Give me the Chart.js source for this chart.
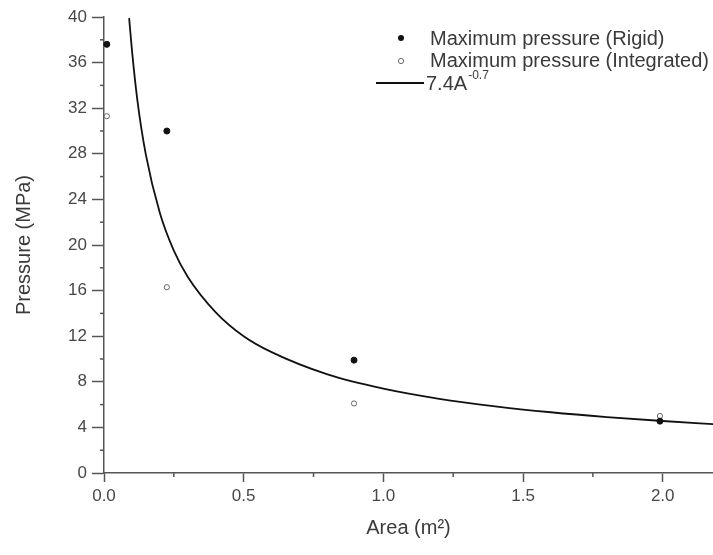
<!DOCTYPE html>
<html>
<head>
<meta charset="utf-8">
<script src="https://cdn.jsdelivr.net/npm/chart.js@4.4.1/dist/chart.umd.min.js"></script>
<style>
  html, body { margin: 0; padding: 0; background: #fff; }
  #wrap { width: 713px; height: 555px; }
</style>
</head>
<body>
<div id="wrap"><canvas id="pressureChart"></canvas></div>
<script>
// measured points
const rigidArea = [0.01, 0.225, 0.895, 1.99];
const rigidPressure = [37.6, 30.0, 9.9, 4.55];
const integratedArea = [0.01, 0.225, 0.895, 1.99];
const integratedPressure = [31.3, 16.3, 6.1, 5.0];

// fitted curve
const fitArea = [0.09, 0.1, 0.12, 0.15, 0.2, 0.25, 0.3, 0.4, 0.5, 0.6, 0.8, 1.0, 1.2, 1.4, 1.6, 1.8, 2.0, 2.2];
const fitPressure = [39.9, 37.1, 32.6, 27.9, 22.8, 19.5, 17.2, 14.1, 12.0, 10.6, 8.65, 7.4, 6.51, 5.85, 5.33, 4.91, 4.56, 4.26];

// axis ticks
const areaTicks = [0, 0.5, 1.0, 1.5, 2.0];
const pressureTicks = [0, 4, 8, 12, 16, 20, 24, 28, 32, 36, 40];

const axisColor = '#555';
const textColor = '#474747';
const fontFamily = '"Liberation Sans", Arial, sans-serif';

function toPoints(xs, ys) {
    return xs.map((x, i) => ({ x: x, y: ys[i] }));
}

// short minor ticks halfway between the major ones
const minorTicks = {
    id: 'minorTicks',
    afterDraw(chart) {
        const ctx = chart.ctx;
        const xs = chart.scales.x;
        const ys = chart.scales.y;
        ctx.save();
        ctx.strokeStyle = axisColor;
        ctx.lineWidth = 1.5;
        for (let i = 0; i < areaTicks.length; i++) {
            const v = areaTicks[i] + 0.25;
            if (v > xs.max) break;
            const px = xs.getPixelForValue(v);
            ctx.beginPath();
            ctx.moveTo(px, xs.top);
            ctx.lineTo(px, xs.top + 4);
            ctx.stroke();
        }
        for (let i = 0; i < pressureTicks.length - 1; i++) {
            const py = ys.getPixelForValue(pressureTicks[i] + 2);
            ctx.beginPath();
            ctx.moveTo(ys.right - 4, py);
            ctx.lineTo(ys.right, py);
            ctx.stroke();
        }
        ctx.restore();
    }
};

// legend inside the plot, top right
const insideLegend = {
    id: 'insideLegend',
    afterDraw(chart) {
        const ctx = chart.ctx;
        ctx.save();
        ctx.font = '20px ' + fontFamily;
        ctx.textBaseline = 'middle';

        ctx.beginPath();
        ctx.arc(401, 38, 3, 0, Math.PI * 2);
        ctx.fillStyle = '#111';
        ctx.fill();
        ctx.fillStyle = '#3a3a3a';
        ctx.fillText('Maximum pressure (Rigid)', 430, 39);

        ctx.beginPath();
        ctx.arc(401, 61, 2.6, 0, Math.PI * 2);
        ctx.strokeStyle = '#666';
        ctx.lineWidth = 1;
        ctx.stroke();
        ctx.fillText('Maximum pressure (Integrated)', 430, 61);

        ctx.beginPath();
        ctx.moveTo(376, 83);
        ctx.lineTo(424, 83);
        ctx.strokeStyle = '#111';
        ctx.lineWidth = 1.8;
        ctx.stroke();
        ctx.fillText('7.4A', 426, 84);
        const w = ctx.measureText('7.4A').width;
        ctx.font = '12px ' + fontFamily;
        ctx.fillText('-0.7', 426 + w + 1, 76);
        ctx.restore();
    }
};

const chartData = {
    datasets: [
        {
            label: 'Maximum pressure (Rigid)',
            type: 'scatter',
            data: toPoints(rigidArea, rigidPressure),
            pointRadius: 3,
            pointBackgroundColor: '#111',
            pointBorderColor: '#111',
            pointBorderWidth: 1,
            clip: false
        },
        {
            label: 'Maximum pressure (Integrated)',
            type: 'scatter',
            data: toPoints(integratedArea, integratedPressure),
            pointRadius: 2.6,
            pointBackgroundColor: '#fff',
            pointBorderColor: '#666',
            pointBorderWidth: 1,
            clip: false
        },
        {
            label: '7.4A^-0.7',
            type: 'line',
            data: toPoints(fitArea, fitPressure),
            borderColor: '#111',
            borderWidth: 1.8,
            pointRadius: 0,
            fill: false,
            cubicInterpolationMode: 'monotone'
        }
    ]
};

const config = {
    type: 'scatter',
    data: chartData,
    options: {
        responsive: false,
        animation: false,
        layout: {
            autoPadding: false,
            padding: { top: 17, right: 0, bottom: 0, left: 0 }
        },
        scales: {
            x: {
                type: 'linear',
                min: 0,
                max: 2.18,
                afterBuildTicks: function(scale) {
                    scale.ticks = areaTicks.map(v => ({ value: v }));
                },
                afterFit: function(scale) {
                    scale.height = 82;
                    scale.paddingRight = 0;
                    scale.paddingLeft = 0;
                },
                ticks: {
                    autoSkip: false,
                    color: textColor,
                    font: { size: 17, family: fontFamily },
                    padding: 4,
                    maxRotation: 0,
                    callback: function(value) { return value.toFixed(1); }
                },
                grid: {
                    drawOnChartArea: false,
                    tickLength: 9,
                    tickColor: axisColor,
                    tickWidth: 1.5
                },
                border: { color: axisColor, width: 1.5 },
                title: {
                    display: true,
                    text: 'Area (m\u00B2)',
                    color: '#3a3a3a',
                    font: { size: 20, family: fontFamily },
                    padding: { top: 4, bottom: 15 }
                }
            },
            y: {
                type: 'linear',
                min: 0,
                max: 40,
                afterBuildTicks: function(scale) {
                    scale.ticks = pressureTicks.map(v => ({ value: v }));
                },
                afterFit: function(scale) { scale.width = 104; },
                ticks: {
                    autoSkip: false,
                    color: textColor,
                    font: { size: 17, family: fontFamily },
                    padding: 5
                },
                grid: {
                    drawOnChartArea: false,
                    tickLength: 12,
                    tickColor: axisColor,
                    tickWidth: 1.5
                },
                border: { color: axisColor, width: 1.5 },
                title: {
                    display: true,
                    text: 'Pressure (MPa)',
                    color: '#3a3a3a',
                    font: { size: 20, family: fontFamily },
                    padding: { top: 12, bottom: 0 }
                }
            }
        },
        plugins: {
            legend: { display: false },
            tooltip: { enabled: false }
        }
    },
    plugins: [minorTicks, insideLegend]
};

const canvas = document.getElementById('pressureChart');
canvas.width = 713;
canvas.height = 555;
new Chart(canvas, config);
</script>
</body>
</html>
